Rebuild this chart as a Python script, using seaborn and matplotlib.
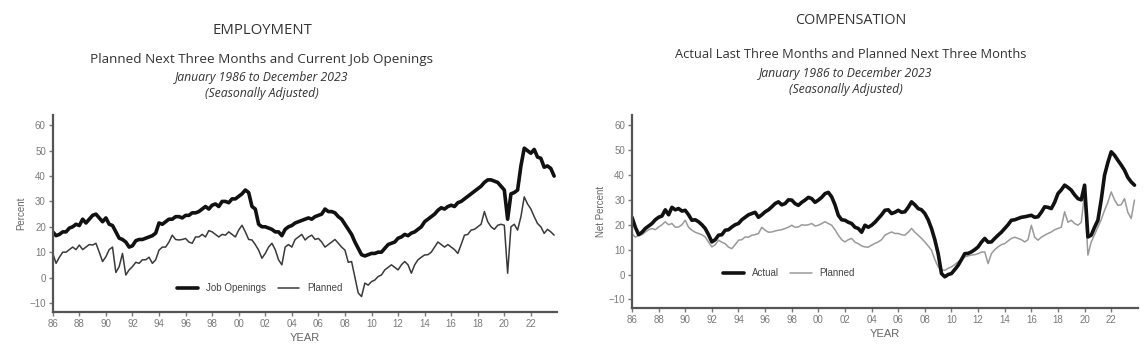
import numpy as np
import pandas as pd
import matplotlib
matplotlib.use("Agg")
import matplotlib.pyplot as plt
import seaborn as sns
from matplotlib.lines import Line2D

sns.set_theme(style="white")
plt.rcParams['font.family'] = ['Liberation Sans', 'DejaVu Sans']

nan = np.nan
# Quarterly readings, 1986Q1 .. 2023Q4
emp_job_openings = [
    18, 16.5, 17, 18,  18, 19.5, 20, 21,  20.5, 23, 21.5, 23,  24.5, 25, 23.5, 22,
    23.5, 21, 20.5, 18,  15.5, 15, 14, 12,  12.5, 14.5, 15, 15,  15.5, 16, 16.5, 17.5,
    21.5, 21, 22, 23,  23, 24, 24, 23.5,  24.5, 24.5, 25.5, 25.5,  26, 27, 28, 27,
    28.5, 29, 28, 30,  30, 29.5, 31, 31,  32, 33, 34.5, 33.5,  28, 27, 21, 20,
    20, 19.5, 19, 18,  18, 16.5, 19, 20,  20.5, 21.5, 22, 22.5,  23, 23.5, 23, 24,
    24.5, 25, 27, 26,  26, 25.5, 24, 23,  21, 19, 17, 14,  11.5, 9, 8.5, 9,
    9.5, 9.5, 10, 10,  11.5, 13, 13.5, 14,  15.5, 16, 17, 16.5,  17.5, 18, 19, 20,
    22, 23, 24, 25,  26.5, 27.5, 27, 28,  28.5, 28, 29.5, 30,  31, 32, 33, 34,
    35, 36, 37.5, 38.5,  38.5, 38, 37.5, 36,  34.5, 23, 33, 33.5,  34.5, 44, 51, 50,
    49, 50.5, 47.5, 47,  43.5, 44, 43, 40,
]
emp_planned = [
    9.5, 5.6, 8, 10,  10, 11, 12, 11,  12.8, 11, 12, 13,  12.8, 13.5, 10, 6.3,
    8.2, 11, 12, 2,  4.3, 9.5, 1, 3,  4.3, 6, 5.6, 7,  7, 8, 5.6, 7,
    10.8, 12, 12, 14,  16.7, 15, 14.8, 15,  15.4, 14, 13.5, 16,  16, 17, 16, 18.5,
    18, 17, 16, 17,  16.7, 18, 17, 16,  18.7, 20.6, 18, 15,  14.8, 13, 10.8, 7.6,
    9.5, 12, 13.5, 11,  7, 5, 12, 13,  12, 15, 16, 17,  14.8, 16, 16.7, 15,
    15.4, 14, 12, 13,  14, 15, 13.5, 12,  10.8, 6, 6.3, nan,  -6.1, -7.5, -2.2, -3,
    -1.6, -1, 0.4, 1,  3, 4, 5, 4,  3, 5, 6.3, 5,  1.7, 5, 7, 8,
    8.9, 9, 10, 12,  14, 13, 12, 13,  12, 11, 9.5, 13,  16.7, 17, 18.7, 19,
    20, 21, 26, 22,  20, 19, 20.6, 21,  20.6, 1.7, 20, 21,  18.7, 24, 31.8, 29,
    27, 24, 21.3, 20,  17.4, 19, 18, 16.7,
]
comp_actual = [
    23, 19, 16, 17,  18.5, 19.5, 20.5, 22,  23, 23.5, 26, 24,  27, 26, 26.5, 25.5,
    25.8, 24, 21.8, 22,  21.2, 20, 18.5, 16,  13.1, 14, 15.8, 16,  17.8, 18, 19.1, 20,
    20.5, 22, 23, 24,  24.5, 25, 23, 24,  25.2, 26, 27.2, 28.5,  29.2, 28, 28.5, 30,
    29.9, 28.5, 27.8, 29,  29.9, 31, 30.5, 29,  29.9, 31, 32.5, 33,  31.2, 28, 23.8, 22,
    21.8, 21, 20.5, 19,  18.5, 17, 19.8, 19,  19.8, 21, 22.5, 24,  25.8, 26, 24.5, 25,
    25.8, 25, 25.2, 27,  29.2, 28, 26.5, 26,  24.5, 22, 18.5, 14,  8.4, 0.4, -0.9, 0,
    0.4, 2, 3.7, 6,  8.4, 8.5, 9.1, 10,  11.1, 13, 14.5, 13,  13.1, 14.5, 15.8, 17,
    18.5, 20, 21.8, 22,  22.5, 23, 23.2, 23.5,  23.8, 23, 23.2, 25,  27.2, 27, 26.5, 29,
    32.5, 34, 35.9, 35,  33.9, 32, 30.5, 30,  35.9, 15.1, 15.8, 19,  21.8, 30, 39.9, 45,
    49.3, 47.9, 45.9, 44,  41.9, 39, 37.2, 35.9,
]
comp_planned = [
    16.5, 15, 15.8, 16,  17.1, 18, 18.5, 18,  19.1, 20, 21.2, 20,  20.5, 19, 19.1, 20,
    21.8, 19, 17.8, 17,  16.5, 16, 15.1, 13,  11.1, 12, 13.8, 13,  12.4, 11, 10.4, 12,
    13.8, 14, 15.1, 15,  15.8, 16, 16.5, 19,  17.8, 17, 17.1, 17.5,  17.8, 18, 18.5, 19,
    19.8, 19, 19.1, 20,  19.8, 20, 20.5, 19.5,  19.8, 20.5, 21.2, 20.5,  19.8, 18, 15.8, 14,
    13.1, 14, 14.5, 13,  12.4, 11.5, 11.1, 11,  11.8, 12.5, 13.1, 14,  15.8, 16.5, 17.1, 16.5,
    16.5, 16, 15.8, 17,  18.5, 17, 15.8, 14.5,  13.1, 11.5, 9.8, 6,  3.1, 2, 1.7, 2.5,
    3.1, 4, 5.1, 6,  7.1, 7.5, 7.8, 8,  8.4, 9, 9.1, 4.4,  8.4, 10, 11.1, 12,
    12.4, 13.5, 14.5, 15,  14.5, 14, 13.1, 14,  19.8, 15, 13.8, 15,  15.8, 16.5, 17.1, 18,
    18.5, 19, 25.2, 21,  21.8, 20.5, 19.8, 21,  32.5, 7.8, 13.1, 16,  19.1, 22, 25.8, 29,
    33.2, 30, 27.8, 28,  30.5, 25, 22.5, 29.9,
]
years = 1986 + np.arange(len(emp_job_openings)) / 4.0
x_ticks = list(range(1986, 2023, 2))
x_tick_labels = ['86', '88', '90', '92', '94', '96', '98', '00', '02', '04',
                 '06', '08', '10', '12', '14', '16', '18', '20', '22']
y_ticks = [-10, 0, 10, 20, 30, 40, 50, 60]

emp_df = pd.DataFrame({'year': years, 'Job Openings': emp_job_openings, 'Planned': emp_planned})
comp_df = pd.DataFrame({'year': years, 'Actual': comp_actual, 'Planned': comp_planned})

fig = plt.figure(figsize=(11.47, 3.6), dpi=100)
ax1 = fig.add_axes([0.046, 0.134, 0.440, 0.546])
ax2 = fig.add_axes([0.551, 0.144, 0.441, 0.536])

tick_col = '#7a7a7a'
spine_col = '#555555'

def style(ax, ylabel):
    ax.set_xlim(1986, 2024)
    ax.set_ylim(-13.5, 64)
    ax.set_xticks(x_ticks)
    ax.set_xticklabels(x_tick_labels)
    ax.set_yticks(y_ticks)
    ax.tick_params(axis='both', labelsize=7, colors=tick_col, length=3, width=1,
                   direction='out', bottom=True, left=True, pad=2)
    for s in ['top', 'right']:
        ax.spines[s].set_visible(False)
    for s in ['left', 'bottom']:
        ax.spines[s].set_color(spine_col)
        ax.spines[s].set_linewidth(1.6)
    ax.set_xlabel('YEAR', fontsize=8, color='#666666', labelpad=3)
    ax.set_ylabel(ylabel, fontsize=7, color='#666666', labelpad=2)
    ax.grid(False)

# Employment
sns.lineplot(data=emp_df, x='year', y='Planned', ax=ax1, color='#3a3a3a', linewidth=1.1)
sns.lineplot(data=emp_df, x='year', y='Job Openings', ax=ax1, color='#111111', linewidth=2.6)
style(ax1, 'Percent')
h1 = [Line2D([], [], color='#111111', lw=2.6), Line2D([], [], color='#3a3a3a', lw=1.1)]
ax1.legend(h1, ['Job Openings', 'Planned'], loc='center', bbox_to_anchor=(0.41, 0.12),
           ncol=2, frameon=False, fontsize=7, labelcolor='#444444', handlelength=2.2,
           columnspacing=1.2, handletextpad=0.8)

# Compensation
sns.lineplot(data=comp_df, x='year', y='Planned', ax=ax2, color='#9a9a9a', linewidth=1.1)
sns.lineplot(data=comp_df, x='year', y='Actual', ax=ax2, color='#111111', linewidth=2.6)
style(ax2, 'Net Percent')
h2 = [Line2D([], [], color='#111111', lw=2.6), Line2D([], [], color='#9a9a9a', lw=1.1)]
ax2.legend(h2, ['Actual', 'Planned'], loc='center', bbox_to_anchor=(0.31, 0.18),
           ncol=2, frameon=False, fontsize=7, labelcolor='#444444', handlelength=2.2,
           columnspacing=1.2, handletextpad=0.8)

# Titles
tc = '#333333'
tf = ['Open Sans', 'DejaVu Sans']
fig.text(262 / 1147, 1 - 30 / 360, 'EMPLOYMENT', ha='center', va='center', fontsize=10.7,
         color=tc, family=tf)
fig.text(262 / 1147, 1 - 59 / 360, 'Planned Next Three Months and Current Job Openings',
         ha='center', va='center', fontsize=9.7, color=tc, family=tf)
fig.text(262 / 1147, 1 - 77 / 360, 'January 1986 to December 2023', ha='center', va='center',
         fontsize=8.8, style='italic', color=tc, family=tf)
fig.text(262 / 1147, 1 - 93 / 360, '(Seasonally Adjusted)', ha='center', va='center',
         fontsize=8.8, style='italic', color=tc, family=tf)

fig.text(851 / 1147, 1 - 20 / 360, 'COMPENSATION', ha='center', va='center', fontsize=10.4,
         color=tc, family=tf)
fig.text(851 / 1147, 1 - 55 / 360, 'Actual Last Three Months and Planned Next Three Months',
         ha='center', va='center', fontsize=9.3, color=tc, family=tf)
fig.text(846 / 1147, 1 - 73 / 360, 'January 1986 to December 2023', ha='center', va='center',
         fontsize=8.8, style='italic', color=tc, family=tf)
fig.text(846 / 1147, 1 - 90 / 360, '(Seasonally Adjusted)', ha='center', va='center',
         fontsize=8.8, style='italic', color=tc, family=tf)

fig.savefig('out.png', dpi=100)
